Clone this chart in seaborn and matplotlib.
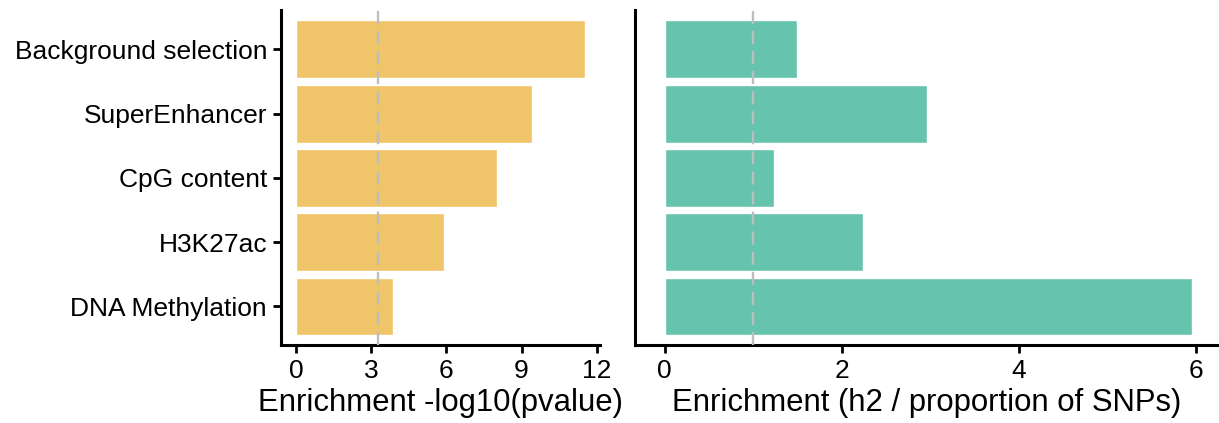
import matplotlib
matplotlib.use("Agg")
import matplotlib.pyplot as plt
import seaborn as sns
import pandas as pd

categories = ["Background selection", "SuperEnhancer", "CpG content", "H3K27ac", "DNA Methylation"]
neglog10_p = [11.52, 9.43, 8.03, 5.89, 3.88]
enrichment = [1.49, 2.96, 1.23, 2.24, 5.955]
p_threshold = 3.28
enrich_threshold = 1.0
left_ticks = [0, 3, 6, 9, 12]
right_ticks = [0, 2, 4, 6]

sns.set_theme(style="ticks")
plt.rcParams["font.family"] = ["Liberation Sans", "DejaVu Sans"]
plt.rcParams["text.color"] = "black"
plt.rcParams["axes.labelcolor"] = "black"

df = pd.DataFrame({"cat": categories, "p": neglog10_p, "e": enrichment})

fig = plt.figure(figsize=(12.19, 4.23), dpi=100)
axL = fig.add_axes([281/1219, 1-345/423, (600-281)/1219, 335/423])
axR = fig.add_axes([635/1219, 1-345/423, (1218-635)/1219, 335/423])

sns.barplot(data=df, x="p", y="cat", orient="h", color="#F0C468", saturation=1,
            width=0.9, edgecolor="white", linewidth=1, ax=axL)
sns.barplot(data=df, x="e", y="cat", orient="h", color="#66C3AE", saturation=1,
            width=0.9, edgecolor="white", linewidth=1, ax=axR)

axL.axvline(p_threshold, color="#BEBEBE", ls=(0, (5.5, 3)), lw=1.7, zorder=5)
axR.axvline(enrich_threshold, color="#BEBEBE", ls=(0, (5.5, 3)), lw=1.7, zorder=5)

axL.set_xlim(-0.6, 12.13)
axR.set_xlim(-0.336, 6.25)
for ax in (axL, axR):
    ax.set_ylim(4.6, -0.613)
    ax.set_ylabel("")
    for s in ("top", "right"):
        ax.spines[s].set_visible(False)
    for s in ("left", "bottom"):
        ax.spines[s].set_linewidth(2.2)
        ax.spines[s].set_color("black")
    ax.tick_params(axis="both", length=6, width=2, color="black", labelsize=19,
                   labelcolor="black", pad=4)

axL.set_xticks(left_ticks)
axR.set_xticks(right_ticks)
axR.set_yticks([])
axR.set_yticklabels([])
axL.set_xlabel("Enrichment -log10(pvalue)", fontsize=22.4, labelpad=4, color="black")
axR.set_xlabel("Enrichment (h2 / proportion of SNPs)", fontsize=22.4, labelpad=4, color="black")

fig.savefig("out.png", dpi=100)
